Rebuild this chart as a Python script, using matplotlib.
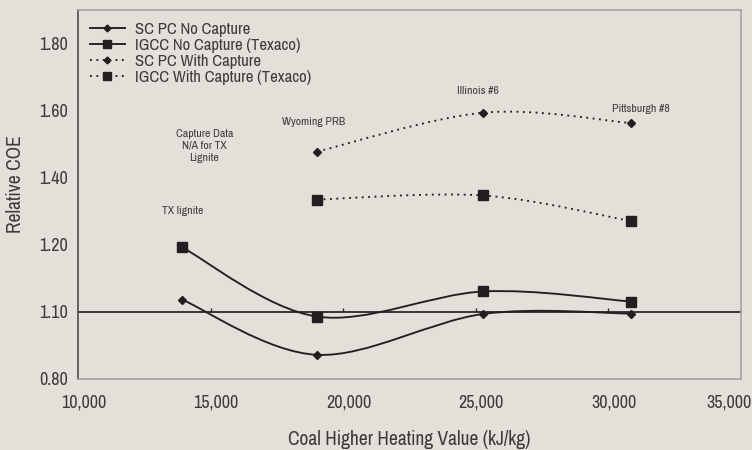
"""Relative COE vs coal heating value, smoothed Excel-style lines"""
import matplotlib
matplotlib.use("Agg")
import matplotlib.pyplot as plt
from matplotlib import font_manager
from matplotlib.path import Path
from matplotlib.patches import PathPatch
from matplotlib.lines import Line2D
from matplotlib.transforms import ScaledTranslation

# prefer a condensed face, as the reference uses one
names = sorted({f.name for f in font_manager.fontManager.ttflist})
condensed = [n for n in names if 'Condensed' in n or 'Narrow' in n]
plt.rcParams['font.family'] = condensed[:1] + ['DejaVu Sans']
plt.rcParams['font.stretch'] = 'condensed'

# coal higher heating value (kJ/kg): TX lignite, Wyoming PRB, Illinois #6, Pittsburgh #8
HHV_ALL = [13940, 19020, 25290, 30840]
HHV_CAP = [19020, 25290, 30840]

SCPC_NO_CAP = [1.036, 0.872, 0.994, 0.995]
IGCC_NO_CAP = [1.192, 0.986, 1.061, 1.031]
SCPC_CAP = [1.478, 1.594, 1.563]
IGCC_CAP = [1.335, 1.347, 1.271]

Y_TICKS = [0.8, 1.0, 1.2, 1.4, 1.6, 1.8]
Y_LABELS = ['0.80', '1.10', '1.20', '1.40', '1.60', '1.80']
X_TICKS = [10000, 15000, 20000, 25000, 30000, 35000]
X_LABELS = ['10,000', '15,000', '20,000', '25,000', '30,000', '35,000']

BG = '#e3dfd9'
INK = '#231f20'
TXT = '#3c3a3a'
DOTS = (0, (1, 2.4))


def smooth_path(xs, ys):
    """Catmull-Rom style cubic bezier through the points"""
    pts = list(zip(xs, ys))
    verts = [pts[0]]
    codes = [Path.MOVETO]
    n = len(pts)
    for i in range(n - 1):
        p0 = pts[max(i - 1, 0)]
        p1 = pts[i]
        p2 = pts[i + 1]
        p3 = pts[min(i + 2, n - 1)]
        c1 = (p1[0] + (p2[0] - p0[0]) / 6, p1[1] + (p2[1] - p0[1]) / 6)
        c2 = (p2[0] - (p3[0] - p1[0]) / 6, p2[1] - (p3[1] - p1[1]) / 6)
        verts += [c1, c2, p2]
        codes += [Path.CURVE4] * 3
    return Path(verts, codes)


def main():
    """Go Main Go"""
    fig = plt.figure(figsize=(7.52, 4.5), dpi=100, facecolor=BG)
    ax = fig.add_axes([0.1037, 0.1578, 0.8817, 0.82], facecolor=BG)

    series = [
        (HHV_ALL, SCPC_NO_CAP, 'D', 4.5, '-', 'SC PC No Capture'),
        (HHV_ALL, IGCC_NO_CAP, 's', 6.5, '-', 'IGCC No Capture (Texaco)'),
        (HHV_CAP, SCPC_CAP, 'D', 4.5, DOTS, 'SC PC With Capture'),
        (HHV_CAP, IGCC_CAP, 's', 6.5, DOTS, 'IGCC With Capture (Texaco)'),
    ]
    handles = []
    for xs, ys, mk, ms, ls, label in series:
        ax.add_patch(PathPatch(smooth_path(xs, ys), fill=False, ec=INK,
                               lw=1.35, ls=ls, zorder=3))
        ax.plot(xs, ys, ls='none', marker=mk, ms=ms, color=INK, zorder=4)
        handles.append(Line2D([], [], color=INK, lw=1.35, ls=ls, marker=mk,
                              ms=ms - 1, label=label))

    # the x axis crosses at 1.0
    ax.axhline(1.0, color='#2a2828', lw=1.3, zorder=2)
    ax.vlines(X_TICKS[1:], 1.0, 1.012, color='#2a2828', lw=1.0, zorder=2)

    ax.set_xlim(10000, 35000)
    ax.set_ylim(0.8, 1.9)
    ax.set_xticks(X_TICKS)
    ax.set_xticklabels(X_LABELS)
    ax.set_yticks(Y_TICKS)
    ax.set_yticklabels(Y_LABELS)
    ax.tick_params(length=0, labelsize=13, labelcolor=TXT, pad=7)
    ax.tick_params(axis='x', pad=11)
    labs = ax.get_xticklabels()
    for lab in labs[:-1]:
        lab.set_transform(lab.get_transform()
                          + ScaledTranslation(4 / 72, 0, fig.dpi_scale_trans))
    labs[-1].set_ha('right')
    labs[-1].set_transform(labs[-1].get_transform()
                           + ScaledTranslation(7.5 / 72, 0, fig.dpi_scale_trans))
    for side in ['top', 'right', 'bottom']:
        ax.spines[side].set_color('#a5a3a0')
        ax.spines[side].set_linewidth(1.2)
    ax.spines['left'].set_color('#5a5858')
    ax.spines['left'].set_linewidth(1.3)

    ax.set_ylabel('Relative COE', fontsize=14, color=TXT, va='center')
    ax.yaxis.set_label_coords(-0.094, 0.528)
    ax.set_xlabel('Coal Higher Heating Value (kJ/kg)', fontsize=14,
                  color=TXT, labelpad=14)

    notes = [
        (14770, 1.495, 'Capture Data\nN/A for TX\nLignite'),
        (13950, 1.300, 'TX lignite'),
        (18870, 1.566, 'Wyoming PRB'),
        (25080, 1.659, 'Illinois #6'),
        (31240, 1.605, 'Pittsburgh #8'),
    ]
    for x, y, s in notes:
        ax.text(x, y, s, ha='center', va='center', fontsize=8.4, color=TXT,
                linespacing=1.25)

    leg = ax.legend(handles=handles, loc='upper left', frameon=False,
                    fontsize=12, handlelength=2.1, handletextpad=0.65,
                    labelspacing=0.06, borderaxespad=0.3,
                    bbox_to_anchor=(0.0, 1.0))
    for t in leg.get_texts():
        t.set_color(TXT)

    fig.savefig('out.png', dpi=100, facecolor=BG)


if __name__ == '__main__':
    main()
